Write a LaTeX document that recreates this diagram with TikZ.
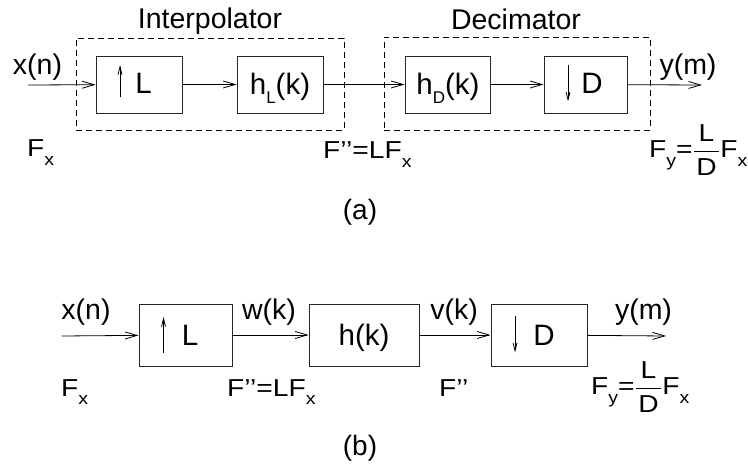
\documentclass[tikz,border=0pt]{standalone}
\usepackage{amsmath}
\usepackage{graphicx}
\usepackage{fontspec}
\setmainfont{Liberation Sans}
\usetikzlibrary{arrows.meta}
\newcommand\sbx[1]{\raisebox{-9pt}{\fontsize{17}{17}\selectfont #1}}
\newcommand\fl[1]{\scalebox{1.15}[1]{#1}}
\newcommand\fr{$\dfrac{\text{\hspace{2pt}L\hspace{2pt}}}{\text{\hspace{2pt}D\hspace{2pt}}}$}
\begin{document}
\begin{tikzpicture}[x=1pt,y=-1pt,
  blk/.style={draw=black!85, line width=0.9pt, inner sep=0pt},
  grp/.style={draw, dash pattern=on 6pt off 4pt, line width=0.8pt, inner sep=0pt},
  sig/.style={-{Straight Barb[length=12pt,width=7pt]}, line width=0.8pt},
  inarr/.style={-{Straight Barb[length=8pt,width=4pt]}, line width=0.8pt},
  lbl/.style={font=\fontsize{28.5}{28.5}\selectfont, anchor=base, inner sep=0pt},
  flbl/.style={font=\fontsize{24.5}{24.5}\selectfont, anchor=base west, inner sep=0pt},
  btxt/.style={font=\fontsize{29.5}{29.5}\selectfont, anchor=base, inner sep=0pt},
  figcap/.style={font=\fontsize{28}{28}\selectfont, inner sep=0pt}]
\useasboundingbox (0,0) rectangle (748,465);
\fill[white] (0,0) rectangle (748,465);
% ---------- (a) ----------
\node[grp, minimum width=268pt, minimum height=92pt] (interp) at (210,84) {};
\node[grp, minimum width=266pt, minimum height=93pt] (decim) at (517,83.5) {};
\node[lbl] (tint) at (210,29) {Interpolator};
\node[lbl] (tdec) at (516,30) {Decimator};
\node[blk, minimum width=86pt, minimum height=57pt] (upA) at (139,84.5) {};
\node[blk, minimum width=86pt, minimum height=57pt] (hL) at (280,84.5) {};
\node[blk, minimum width=85pt, minimum height=57pt] (hD) at (447.5,84.5) {};
\node[blk, minimum width=83pt, minimum height=57pt] (dnA) at (585.5,84.5) {};
\node[btxt] (tupA) at (143.5,94) {L};
\node[btxt] (thL) at (280,95) {h\sbx{L}(k)};
\node[btxt] (thD) at (448,95) {h\sbx{D}(k)};
\node[btxt] (tdnA) at (592,94) {D};
\draw[inarr] ([xshift=-19pt,yshift=-13pt]upA.center) -- ([xshift=-19pt,yshift=19.5pt]upA.center);
\draw[inarr] ([xshift=-17.5pt,yshift=19.5pt]dnA.center) -- ([xshift=-17.5pt,yshift=-17pt]dnA.center);
\coordinate (inA) at (28,85);
\coordinate (outA) at (702,85);
\draw[sig] (inA) -- (upA);
\draw[sig] (upA) -- (hL);
\draw[sig] (hL) -- (hD);
\draw[sig] (hD) -- (dnA);
\draw[sig] (dnA) -- (outA);
\node[lbl] (xnA) at (37.5,75) {x(n)};
\node[lbl] (ymA) at (688,75) {y(m)};
\node[flbl] (fxA) at (27,157) {\fl{F\sbx{x}}};
\node[flbl] (fppA) at (323,159) {\fl{F\textquoteright\textquoteright=LF\sbx{x}}};
\node[flbl] (fyA) at (649,158) {\fl{F\sbx{y}=\fr F\sbx{x}}};
\node[figcap] (ca) at (360,212) {(a)};
% ---------- (b) ----------
\node[blk, minimum width=93pt, minimum height=62pt] (upB) at (185.5,335) {};
\node[blk, minimum width=110pt, minimum height=62pt] (hB) at (364,335) {};
\node[blk, minimum width=96pt, minimum height=62pt] (dnB) at (539,335) {};
\node[btxt] (tupB) at (190,345.5) {L};
\node[btxt] (thB) at (364,346) {h(k)};
\node[btxt] (tdnB) at (544,345.5) {D};
\draw[inarr] ([xshift=-22pt,yshift=-18pt]upB.center) -- ([xshift=-22pt,yshift=18pt]upB.center);
\draw[inarr] ([xshift=-24pt,yshift=18.5pt]dnB.center) -- ([xshift=-24pt,yshift=-17.5pt]dnB.center);
\coordinate (inB) at (62,336);
\coordinate (outB) at (666,336);
\draw[sig] (inB) -- (upB);
\draw[sig] (upB) -- (hB);
\draw[sig] (hB) -- (dnB);
\draw[sig] (dnB) -- (outB);
\node[lbl] (xnB) at (86,320) {x(n)};
\node[lbl] (wkB) at (269,320) {w(k)};
\node[lbl] (vkB) at (454,320) {v(k)};
\node[lbl] (ymB) at (643.5,320) {y(m)};
\node[flbl] (fxB) at (61,396) {\fl{F\sbx{x}}};
\node[flbl] (fppB) at (227,396) {\fl{F\textquoteright\textquoteright=LF\sbx{x}}};
\node[flbl] (fpB) at (439,396) {\fl{F\textquoteright\textquoteright}};
\node[flbl] (fyB) at (591,395) {\fl{F\sbx{y}=\fr F\sbx{x}}};
\node[figcap] (cb) at (360,448) {(b)};
\end{tikzpicture}
\end{document}
